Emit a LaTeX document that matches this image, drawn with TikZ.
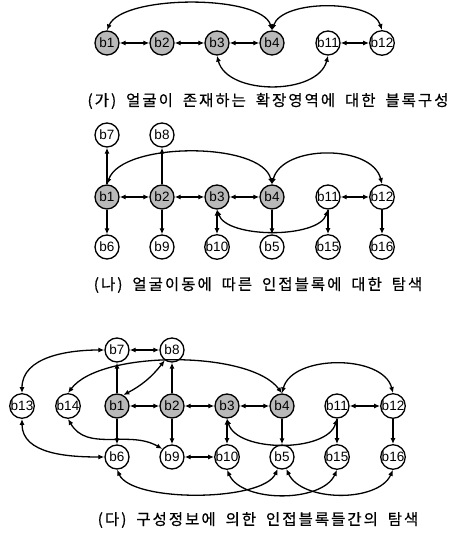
\documentclass[tikz,border=0pt]{standalone}
\usepackage{fontspec}
\setmainfont{Liberation Sans}
\newfontfamily\kr[LetterSpace=13,WordSpace=1.8,FakeBold=0.6]{Noto Sans CJK KR}
\usetikzlibrary{arrows.meta}
\begin{document}
\begin{tikzpicture}[x=1pt,y=1pt,
 blk/.style={circle,draw,line width=1.3pt,minimum size=24pt,inner sep=0pt,font=\fontsize{13.5}{13.5}\selectfont},
 face/.style={blk,fill=gray!55},
 bi/.style={{Latex[length=6pt,width=5pt]}-{Latex[length=6pt,width=5pt]},line width=1.3pt},
 uni/.style={-{Latex[length=6pt,width=5pt]},line width=1.3pt},
 captxt/.style={font=\kr\fontsize{15.5}{15.5}\selectfont,inner sep=0pt}]
\useasboundingbox (0,0) rectangle (455,535);
% ---------- (ga)
\node[face] (a1) at (107,492) {b1};
\node[face] (a2) at (162,492) {b2};
\node[face] (a3) at (217,492) {b3};
\node[face] (a4) at (272,492) {b4};
\node[blk] (a11) at (328,492) {b11};
\node[blk] (a12) at (382,492) {b12};
\draw[bi] (a1) -- (a2);
\draw[bi] (a2) -- (a3);
\draw[bi] (a3) -- (a4);
\draw[bi] (a11) -- (a12);
\draw[bi] (a1.north) .. controls +(15,36) and +(-10,36) .. (a4.north);
\draw[bi] (a4.north) .. controls +(10,31) and +(-10,31) .. (a12.north);
\draw[bi] (a3.south) .. controls +(10,-40) and +(-10,-40) .. (a11.south);
\node[captxt] (c1) at (268,434) {(가) 얼굴이 존재하는 확장영역에 대한 블록구성};
% ---------- (na)
\node[blk] (b7) at (107,400) {b7};
\node[blk] (b8) at (162,400) {b8};
\node[face] (b1) at (107,338) {b1};
\node[face] (b2) at (162,338) {b2};
\node[face] (b3) at (217,338) {b3};
\node[face] (b4) at (272,338) {b4};
\node[blk] (b11) at (328,338) {b11};
\node[blk] (b12) at (382,338) {b12};
\node[blk] (b6) at (107,288) {b6};
\node[blk] (b9) at (162,288) {b9};
\node[blk] (b10) at (217,288) {b10};
\node[blk] (b5) at (272,288) {b5};
\node[blk] (b15) at (328,288) {b15};
\node[blk] (b16) at (382,288) {b16};
\draw[uni] (b1) -- (b7);
\draw[uni] (b2) -- (b8);
\draw[uni] (b1) -- (b6);
\draw[uni] (b2) -- (b9);
\draw[bi] (b3) -- (b10);
\draw[uni] (b4) -- (b5);
\draw[uni] (b11) -- (b15);
\draw[uni] (b12) -- (b16);
\draw[bi] (b1) -- (b2);
\draw[bi] (b2) -- (b3);
\draw[bi] (b3) -- (b4);
\draw[bi] (b11) -- (b12);
\draw[bi] (b1.north) .. controls +(15,43) and +(-10,43) .. (b4.north);
\draw[bi] (b4.north) .. controls +(10,40) and +(-10,40) .. (b12.north);
\draw[bi] (b3.south) .. controls +(10,-29) and +(-10,-29) .. (b11.south);
\node[captxt] (c2) at (258,250) {(나) 얼굴이동에 따른 인접블록에 대한 탐색};
% ---------- (da)
\node[blk] (d7) at (117,185) {b7};
\node[blk] (d8) at (172,185) {b8};
\node[blk] (d13) at (22,129) {b13};
\node[blk] (d14) at (68,129) {b14};
\node[face] (d1) at (117,129) {b1};
\node[face] (d2) at (172,129) {b2};
\node[face] (d3) at (227,129) {b3};
\node[face] (d4) at (282,129) {b4};
\node[blk] (d11) at (337,129) {b11};
\node[blk] (d12) at (393,129) {b12};
\node[blk] (d6) at (117,78) {b6};
\node[blk] (d9) at (172,78) {b9};
\node[blk] (d10) at (227,78) {b10};
\node[blk] (d5) at (282,78) {b5};
\node[blk] (d15) at (337,78) {b15};
\node[blk] (d16) at (393,78) {b16};
\draw[bi] (d7) -- (d8);
\draw[uni] (d1) -- (d7);
\draw[uni] (d2) -- (d8);
\draw[uni] (d1) -- (d6);
\draw[uni] (d2) -- (d9);
\draw[bi] (d9) -- (d10);
\draw[bi] (d3) -- (d10);
\draw[uni] (d4) -- (d5);
\draw[uni] (d11) -- (d15);
\draw[uni] (d12) -- (d16);
\draw[bi] (d1) -- (d2);
\draw[bi] (d2) -- (d3);
\draw[bi] (d3) -- (d4);
\draw[bi] (d11) -- (d12);
\draw[bi] (d1.60) to[bend right=12] (d8.235);
\draw[bi] (d14.north) .. controls (100,185) and (250,185) .. (d4.north);
\draw[bi] (d4.north) .. controls +(10,39) and +(-10,39) .. (d12.north);
\draw[bi] (d3.south) .. controls +(10,-34) and +(-10,-34) .. (d11.south);
\draw[bi] (d13.north) to[out=90,in=180] (d7.west);
\draw[bi] (d13.south) to[out=-90,in=180] (d6.west);
\draw[bi] (d14.south) to[out=-60,in=150] (d9.140);
\draw[bi] (d6.south) .. controls +(15,-33) and +(-15,-33) .. (d5.250);
\draw[bi] (d10.south) .. controls +(15,-33) and +(-15,-33) .. (d15.south);
\draw[bi] (d5.290) .. controls +(15,-33) and +(-15,-33) .. (d16.south);
\node[captxt] (c3) at (258,15) {(다) 구성정보에 의한 인접블록들간의 탐색};
\end{tikzpicture}
\end{document}
